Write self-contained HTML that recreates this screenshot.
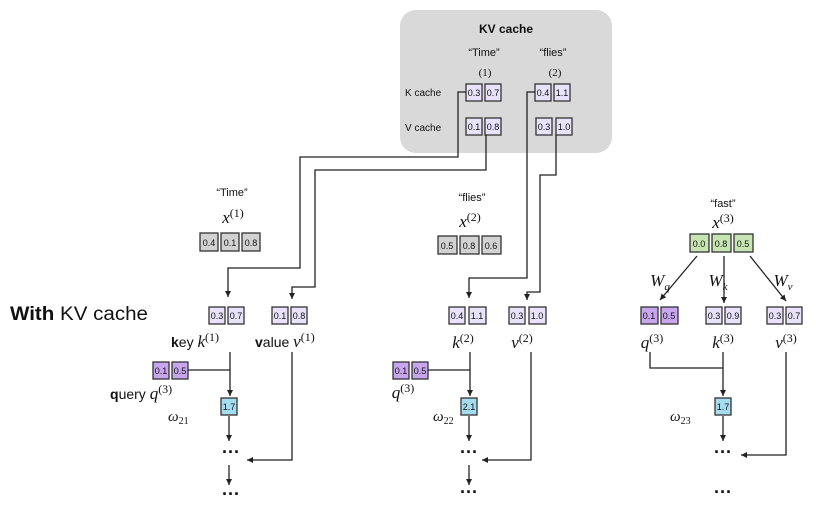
<!DOCTYPE html>
<html><head><meta charset="utf-8"><style>
body{margin:0;background:#fff;}
svg{display:block;}
text{font-family:"Liberation Sans",sans-serif;fill:#111;}
text.m,.m text,.m tspan,tspan.m{font-family:"Liberation Serif",serif;font-style:italic;}
.b{font-size:9px;text-anchor:middle;}
</style></head><body>
<svg width="816" height="527" viewBox="0 0 816 527" xmlns="http://www.w3.org/2000/svg">
<defs><marker id="a" markerWidth="8" markerHeight="8" refX="6" refY="4" orient="auto" markerUnits="userSpaceOnUse"><path d="M0,1 L6,4 L0,7 z" fill="#222"/></marker></defs>
<rect x="400" y="10" width="212" height="143" rx="16" fill="#d9d9d9"/>
<text x="506" y="33" font-size="12" font-weight="bold" text-anchor="middle">KV cache</text>
<text x="484" y="56" font-size="11" text-anchor="middle">“Time”</text>
<text x="553" y="56" font-size="11" text-anchor="middle">“flies”</text>
<text x="485" y="76" font-size="11" text-anchor="middle" style="font-family:'Liberation Serif',serif">(1)</text>
<text x="555" y="76" font-size="11" text-anchor="middle" style="font-family:'Liberation Serif',serif">(2)</text>
<text x="405" y="96" font-size="10">K cache</text>
<text x="405" y="131" font-size="10">V cache</text>
<g stroke="#333" stroke-width="1.3">
<g fill="#e8e2fa">
<rect x="466" y="84" width="16" height="17"/><rect x="485" y="84" width="16" height="17"/>
<rect x="535" y="84" width="16" height="17"/><rect x="554" y="84" width="16" height="17"/>
<rect x="466" y="118" width="16" height="17"/><rect x="485" y="118" width="16" height="17"/>
<rect x="536" y="118" width="16" height="17"/><rect x="556" y="118" width="16" height="17"/>
<rect x="209" y="307" width="16" height="17"/><rect x="228" y="307" width="16" height="17"/>
<rect x="272" y="307" width="16" height="17"/><rect x="291" y="307" width="16" height="17"/>
<rect x="449" y="307" width="16" height="17"/><rect x="469" y="307" width="17" height="17"/>
<rect x="509" y="307" width="16" height="17"/><rect x="529" y="307" width="17" height="17"/>
<rect x="706" y="307" width="16" height="17"/><rect x="725" y="307" width="16" height="17"/>
<rect x="767" y="307" width="16" height="17"/><rect x="786" y="307" width="16" height="17"/>
</g>
<g fill="#c8a6ee">
<rect x="153" y="362" width="16" height="17"/><rect x="172" y="362" width="16" height="17"/>
<rect x="393" y="362" width="16" height="17"/><rect x="412" y="362" width="16" height="17"/>
<rect x="641" y="307" width="17" height="17"/><rect x="661" y="307" width="17" height="17"/>
</g>
<g fill="#d2d2d2">
<rect x="200" y="233" width="18" height="18"/><rect x="221" y="233" width="18" height="18"/><rect x="242" y="233" width="18" height="18"/>
<rect x="438" y="236" width="19" height="18"/><rect x="460" y="236" width="19" height="18"/><rect x="482" y="236" width="19" height="18"/>
</g>
<g fill="#c6e5b3">
<rect x="690" y="234" width="19" height="18"/><rect x="712" y="234" width="19" height="18"/><rect x="734" y="234" width="19" height="18"/>
</g>
<g fill="#a6dcf0">
<rect x="221" y="398" width="16" height="17"/><rect x="461" y="398" width="16" height="17"/><rect x="715" y="398" width="16" height="17"/>
</g>
</g>
<g class="b">
<text x="474" y="96">0.3</text><text x="493" y="96">0.7</text><text x="543" y="96">0.4</text><text x="562" y="96">1.1</text>
<text x="474" y="130">0.1</text><text x="493" y="130">0.8</text><text x="544" y="130">0.3</text><text x="564" y="130">1.0</text>
<text x="217" y="319">0.3</text><text x="236" y="319">0.7</text><text x="280" y="319">0.1</text><text x="299" y="319">0.8</text>
<text x="457" y="319">0.4</text><text x="477" y="319">1.1</text><text x="517" y="319">0.3</text><text x="537" y="319">1.0</text>
<text x="714" y="319">0.3</text><text x="733" y="319">0.9</text><text x="775" y="319">0.3</text><text x="794" y="319">0.7</text>
<text x="161" y="374">0.1</text><text x="180" y="374">0.5</text><text x="401" y="374">0.1</text><text x="420" y="374">0.5</text>
<text x="649" y="319">0.1</text><text x="669" y="319">0.5</text>
<text x="209" y="246">0.4</text><text x="230" y="246">0.1</text><text x="251" y="246">0.8</text>
<text x="447" y="249">0.5</text><text x="469" y="249">0.8</text><text x="491" y="249">0.6</text>
<text x="699" y="247">0.0</text><text x="721" y="247">0.8</text><text x="743" y="247">0.5</text>
<text x="229" y="410">1.7</text><text x="469" y="410">2.1</text><text x="723" y="410">1.7</text>
</g>
<g fill="none" stroke="#222" stroke-width="1.3">
<path d="M466,92 H458 V157 H300 V268 H228 V297" marker-end="url(#a)"/>
<path d="M486,135 V170 H315 V287 H292 V299" marker-end="url(#a)"/>
<path d="M535,92 H527 V278 H469 V298" marker-end="url(#a)"/>
<path d="M556,135 V175 H540 V292 H527 V300" marker-end="url(#a)"/>
<path d="M188,370 H230"/><path d="M230,352 V396" marker-end="url(#a)"/>
<path d="M229,416 V441" marker-end="url(#a)"/>
<path d="M292,352 V460 H247" marker-end="url(#a)"/>
<path d="M229,465 V485" marker-end="url(#a)"/>
<path d="M428,370 H470"/><path d="M470,352 V396" marker-end="url(#a)"/>
<path d="M469,416 V441" marker-end="url(#a)"/>
<path d="M531,352 V460 H482" marker-end="url(#a)"/>
<path d="M469,465 V485" marker-end="url(#a)"/>
<path d="M697,256 L660,300" marker-end="url(#a)"/>
<path d="M724,256 V303" marker-end="url(#a)"/>
<path d="M750,256 L786,301" marker-end="url(#a)"/>
<path d="M650,352 V368 H723"/><path d="M723,352 V396" marker-end="url(#a)"/>
<path d="M723,416 V441" marker-end="url(#a)"/>
<path d="M786,352 V455 H741" marker-end="url(#a)"/>
</g>
<text x="10" y="320" font-size="19" textLength="138" lengthAdjust="spacingAndGlyphs"><tspan font-weight="bold">With</tspan> KV cache</text>
<g font-size="11" text-anchor="middle">
<text x="232" y="196">“Time”</text><text x="472" y="201">“flies”</text><text x="723" y="207">“fast”</text>
</g>
<g class="m" font-size="17" text-anchor="middle">
<text x="233" y="223">x<tspan font-size="12" dy="-6" style="font-style:normal">(1)</tspan></text>
<text x="470" y="227">x<tspan font-size="12" dy="-6" style="font-style:normal">(2)</tspan></text>
<text x="723" y="228">x<tspan font-size="12" dy="-6" style="font-style:normal">(3)</tspan></text>
<text x="660" y="286">W<tspan font-size="11" dy="4">q</tspan></text>
<text x="718" y="286">W<tspan font-size="11" dy="4">k</tspan></text>
<text x="783" y="286">W<tspan font-size="11" dy="4">v</tspan></text>
<text x="463" y="348">k<tspan font-size="12" dy="-6" style="font-style:normal">(2)</tspan></text>
<text x="522" y="348">v<tspan font-size="12" dy="-6" style="font-style:normal">(2)</tspan></text>
<text x="652" y="348">q<tspan font-size="12" dy="-6" style="font-style:normal">(3)</tspan></text>
<text x="723" y="348">k<tspan font-size="12" dy="-6" style="font-style:normal">(3)</tspan></text>
<text x="786" y="348">v<tspan font-size="12" dy="-6" style="font-style:normal">(3)</tspan></text>
<text x="403" y="398">q<tspan font-size="12" dy="-6" style="font-style:normal">(3)</tspan></text>
</g>
<text x="171" y="347" font-size="14"><tspan font-weight="bold">k</tspan>ey <tspan class="m" font-size="17">k</tspan><tspan class="m" font-size="12" dy="-6" style="font-style:normal">(1)</tspan></text>
<text x="255" y="347" font-size="14"><tspan font-weight="bold">v</tspan>alue <tspan class="m" font-size="17">v</tspan><tspan class="m" font-size="12" dy="-6" style="font-style:normal">(1)</tspan></text>
<text x="110" y="399" font-size="14"><tspan font-weight="bold">q</tspan>uery <tspan class="m" font-size="17">q</tspan><tspan class="m" font-size="12" dy="-6" style="font-style:normal">(3)</tspan></text>
<g class="m" font-size="15">
<text x="168" y="421">ω<tspan font-size="10" dy="3" style="font-style:normal">21</tspan></text>
<text x="433" y="421">ω<tspan font-size="10" dy="3" style="font-style:normal">22</tspan></text>
<text x="670" y="421">ω<tspan font-size="10" dy="3" style="font-style:normal">23</tspan></text>
</g>
<g font-size="18" font-weight="bold" text-anchor="middle">
<text x="231" y="458">···</text><text x="231" y="500">···</text>
<text x="469" y="458">···</text><text x="469" y="498">···</text>
<text x="723" y="458">···</text><text x="723" y="498">···</text>
</g>
</svg>
</body></html>
